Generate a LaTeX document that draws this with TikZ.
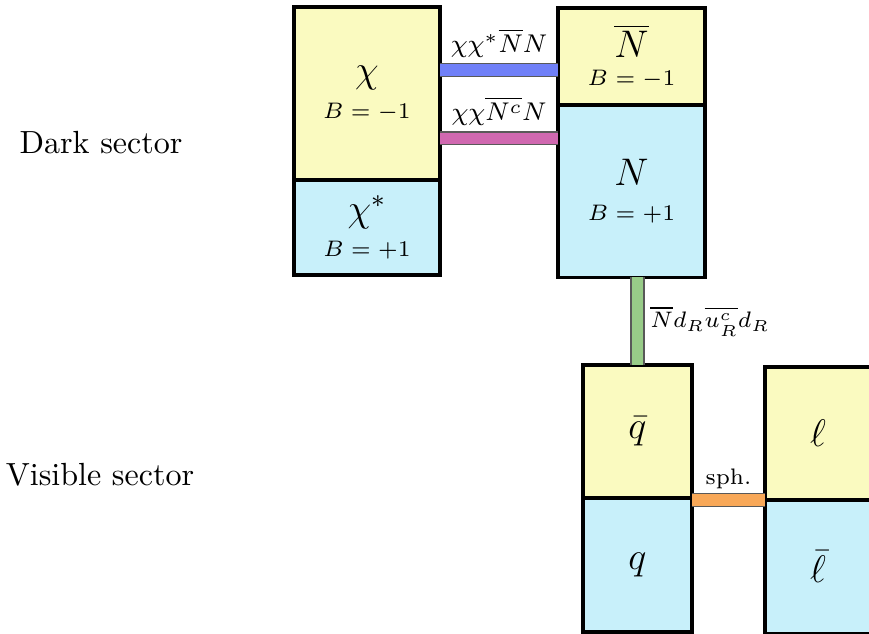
\documentclass[tikz,border=0pt]{standalone}
\usetikzlibrary{positioning}
\definecolor{cellyellow}{HTML}{FAFAC0}
\definecolor{cellblue}{HTML}{C8F0FA}
\definecolor{barblue}{HTML}{7080F8}
\definecolor{barpink}{HTML}{D068B0}
\definecolor{bargreen}{HTML}{98CC88}
\definecolor{barorange}{HTML}{F8A858}
\begin{document}
\begin{tikzpicture}[x=0.312pt,y=0.312pt,node distance=0pt]
\tikzstyle{cell}=[draw,line width=1pt,inner sep=0pt,align=center,outer sep=0pt]
\tikzstyle{bar}=[draw=black!65,line width=0.4pt,double distance=3.6pt]
\useasboundingbox (0,0) rectangle (869,633);
\clip (0,0) rectangle (869,633);
% dark sector
\node[cell,fill=cellyellow,minimum width=45.6pt,minimum height=54pt] (chitop) at (367,539.5) {\large$\chi$\\[-1pt]\scriptsize$B=-1$};
\node[cell,fill=cellblue,minimum width=45.6pt,minimum height=29.6pt,below=of chitop] (chistar) {\large$\chi^*$\\[-1pt]\scriptsize$B=+1$};
\node[cell,fill=cellyellow,minimum width=45.9pt,minimum height=30.3pt] (nbar) at (631.5,576.5) {\large$\overline{N}$\\[-3pt]\scriptsize$B=-1$};
\node[cell,fill=cellblue,minimum width=45.9pt,minimum height=53.7pt,below=of nbar] (nn) {\large$N$\\[-1pt]\scriptsize$B=+1$};
% visible sector
\node[cell,fill=cellyellow,minimum width=34pt,minimum height=41.5pt] (qbar) at (637.5,201.5) {\large$\bar{q}$};
\node[cell,fill=cellblue,minimum width=34pt,minimum height=41.8pt,below=of qbar] (qq) {\large$q$};
\node[cell,fill=cellyellow,minimum width=33.1pt,minimum height=41.5pt] (lep) at (818,199.5) {\large$\ell$};
\node[cell,fill=cellblue,minimum width=33.1pt,minimum height=41.8pt,below=of lep] (lbar) {\large$\bar{\ell}$};
\node (dark) at (101,490) {Dark sector};
\node (visible) at (100,158) {Visible sector};
% operators
\draw[bar,double=barblue] ([yshift=7.3pt]chitop.east) -- node[above=0.5pt]{\footnotesize$\chi\chi^*\overline{N}N$} ([yshift=7.3pt]chitop.east -| nbar.west);
\draw[bar,double=barpink] ([yshift=-14pt]chitop.east) -- node[above=0.5pt]{\footnotesize$\chi\chi\overline{N^c}N$} ([yshift=-14pt]chitop.east -| nbar.west);
\draw[bar,double=bargreen] (qbar.north) -- node[right=0.5pt]{\scriptsize$\overline{N}d_R\overline{u^c_R}d_R$} (qbar.north |- nn.south);
\draw[bar,double=barorange] ([yshift=-0.6pt]qbar.south east) -- node[above=0pt]{\scriptsize sph.} ([yshift=-0.6pt]qbar.south east -| lep.west);
\end{tikzpicture}
\end{document}
